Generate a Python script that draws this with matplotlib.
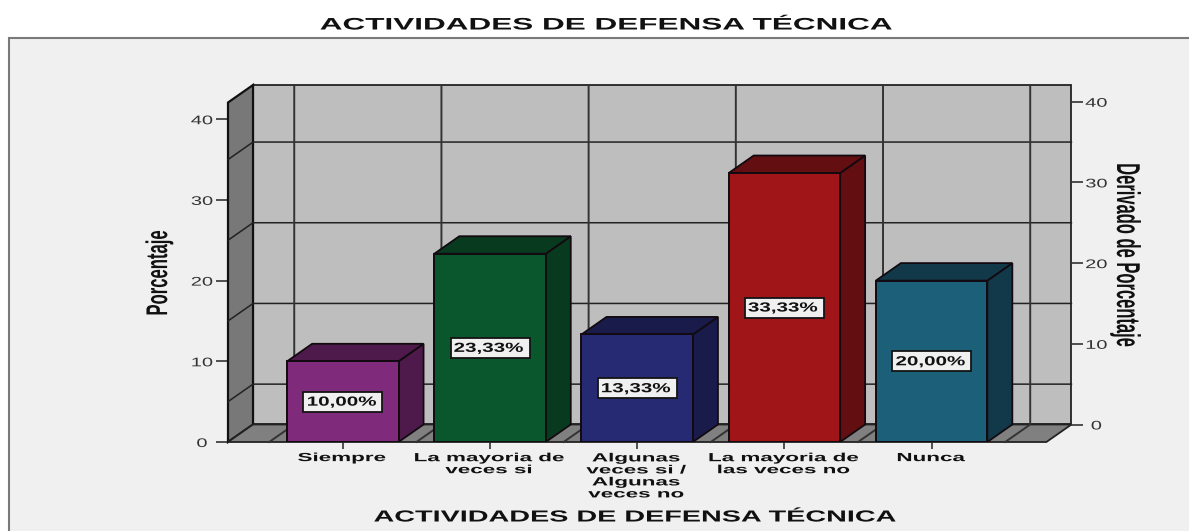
import matplotlib
matplotlib.use("Agg")
import matplotlib.pyplot as plt
from matplotlib.patches import Polygon, Rectangle
from matplotlib.patheffects import AbstractPathEffect
from matplotlib.transforms import Affine2D

categories = ["Siempre", "La mayoria de\nveces si", "Algunas\nveces si /\nAlgunas\nveces no",
              "La mayoria de\nlas veces no", "Nunca"]
percentages = [10.00, 23.33, 13.33, 33.33, 20.00]
value_labels = ["10,00%", "23,33%", "13,33%", "33,33%", "20,00%"]
y_ticks = [0, 10, 20, 30, 40]
grid_levels = [5, 15, 25, 35]

front_colors = ["#7f2a7a", "#0a572e", "#262a72", "#a01518", "#1c5f78"]
dark_colors = ["#4e1a4b", "#083a20", "#191c4b", "#630e10", "#12394a"]

W, H = 1189, 531
BOTTOM, TOP = 0, 44.24
X0, X1 = -0.78, 4.78
DX, DY = 0.17, 2.17
BAR_W = 0.757


class Stretch(AbstractPathEffect):
    # the reference was stretched sideways, so widen the glyphs around a pixel x
    def __init__(self, sx, cx):
        super().__init__()
        self.sx = sx
        self.cx = cx

    def draw_path(self, renderer, gc, tpath, affine, rgbFace=None):
        wide = affine + Affine2D().translate(-self.cx, 0).scale(self.sx, 1).translate(self.cx, 0)
        renderer.draw_path(gc, tpath, wide, rgbFace)


def label(x, y, s, sx, size, weight="normal", color="black", rotation=0, zorder=10):
    # x, y are pixels from the top left of the picture
    fig.text(x / W, 1 - y / H, s, fontsize=size, fontweight=weight, color=color, rotation=rotation,
             ha="center", va="center", linespacing=1.0, zorder=zorder,
             path_effects=[Stretch(sx, x)])


def to_pixel(axes, x, y):
    px, py = axes.transData.transform((x, y))
    return px, H - py


plt.rcParams["font.family"] = ["Liberation Sans", "DejaVu Sans"]
fig = plt.figure(figsize=(W / 100, H / 100), dpi=100, facecolor="white")
fig.add_artist(Rectangle((9 / W, -0.02), 1.1, 1.02 - 38 / H, transform=fig.transFigure,
                         facecolor="#f0f0f0", edgecolor="#7a7a7a", linewidth=1.5, zorder=-1))

ax = fig.add_axes([228 / W, 1 - 442 / H, 818.4 / W, 357 / H])
ax.set_xlim(X0, X1)
ax.set_ylim(BOTTOM, TOP)
ax.patch.set_visible(False)
for side in ax.spines.values():
    side.set_visible(False)

# right axis sits on the back wall
ax2 = fig.add_axes([253 / W, 1 - 424.5 / H, 818.4 / W, 357 / H])
ax2.set_xlim(X0, X1)
ax2.set_ylim(BOTTOM, TOP)
ax2.patch.set_visible(False)
for side in ax2.spines.values():
    side.set_visible(False)
ax2.set_xticks([])
ax2.yaxis.tick_right()
ax2.set_yticks(y_ticks)
ax2.set_yticklabels([])
ax2.tick_params(axis="y", length=8.5, width=1.2, color="#333333")

ax.set_yticks(y_ticks)
ax.set_yticklabels([])
ax.set_xticks(range(len(categories)))
ax.set_xticklabels([])
ax.tick_params(axis="y", length=8.5, width=1.2, color="#333333")
ax.tick_params(axis="x", length=5, width=1.2, color="#333333")

wall_top = TOP - DY
ax.add_patch(Polygon([(X0 + DX, DY), (X1 + DX, DY), (X1 + DX, TOP), (X0 + DX, TOP)], clip_on=False,
                     facecolor="#bebebe", edgecolor="#222222", linewidth=1.3, zorder=1))
ax.add_patch(Polygon([(X0, 0), (X0 + DX, DY), (X0 + DX, TOP), (X0, wall_top)], clip_on=False,
                     facecolor="#787878", edgecolor="#111111", linewidth=1.6, zorder=2))
ax.add_patch(Polygon([(X0, 0), (X1, 0), (X1 + DX, DY), (X0 + DX, DY)], clip_on=False,
                     facecolor="#808080", edgecolor="#222222", linewidth=1.3, zorder=2))

for level in grid_levels:
    ax.plot([X0, X0 + DX, X1 + DX], [level, level + DY, level + DY], color="#222222", linewidth=1.1,
            zorder=3, clip_on=False)

for i in range(len(categories) + 1):
    xb = i - 0.5
    ax.plot([xb, xb + DX, xb + DX], [0, DY, TOP], color="#333333", linewidth=1.4, zorder=3, clip_on=False)

for i, value in enumerate(percentages):
    left, right = i - BAR_W / 2, i + BAR_W / 2
    ax.add_patch(Polygon([(right, 0), (right + DX, DY), (right + DX, value + DY), (right, value)],
                         facecolor=dark_colors[i], edgecolor="#120a10", linewidth=1.3, zorder=4))
    ax.add_patch(Polygon([(left, value), (right, value), (right + DX, value + DY), (left + DX, value + DY)],
                         facecolor=dark_colors[i], edgecolor="#120a10", linewidth=1.3, zorder=4))

ax.bar(range(len(percentages)), percentages, width=BAR_W, color=front_colors, edgecolor="#120a10",
       linewidth=1.4, zorder=5)

for i, value in enumerate(percentages):
    box_w, box_h = 79 / 147.2, 20 / 8.07
    ax.add_patch(Rectangle((i - box_w / 2, value / 2 - box_h / 2), box_w, box_h, facecolor="#f0f0f0",
                           edgecolor="#141414", linewidth=1.3, zorder=6))
    px, py = to_pixel(ax, i, value / 2)
    label(px - 1, py + 1, value_labels[i], 1.56, 9.5, weight="bold", color="#111111")

for i, name in enumerate(categories):
    px, _ = to_pixel(ax, i, 0)
    n_lines = name.count("\n") + 1
    label(px - 1, 452 + 12.2 * n_lines / 2, name, 1.9, 8.5, weight="bold", color="#111111")

for tick in y_ticks:
    px, py = to_pixel(ax, X0, tick)
    label(px - 26, py + 2, str(tick), 1.6, 9, color="#333333")
    px, py = to_pixel(ax2, X1, tick)
    label(px + 25, py + 2, str(tick), 1.6, 9, color="#333333")

label(605, 25, "ACTIVIDADES DE DEFENSA TÉCNICA", 1.89, 12, weight="bold", color="#111111")
label(636, 517, "ACTIVIDADES DE DEFENSA TÉCNICA", 1.8, 11.5, weight="bold", color="#111111")
label(159, 273, "Porcentaje", 1.8, 12, weight="bold", color="#111111", rotation=90)
label(1126, 255, "Derivado de Porcentaje", 2.0, 11.9, weight="bold", color="#111111", rotation=270)

fig.savefig("out.png", dpi=100)
